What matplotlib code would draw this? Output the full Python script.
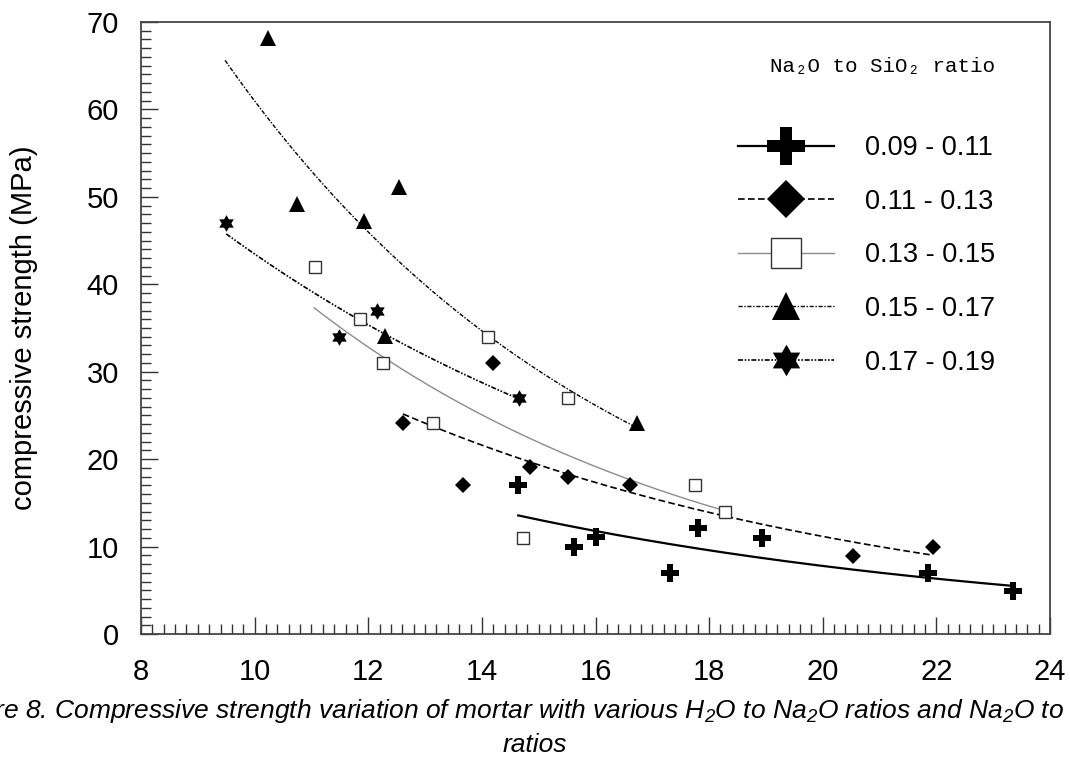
import numpy as np
from matplotlib import pyplot as plt
from matplotlib.lines import Line2D
from matplotlib.path import Path
from matplotlib.ticker import MultipleLocator

# H2O / Na2O ratio (x) and compressive strength in MPa (y) for each Na2O/SiO2 group
labels = ['0.09 - 0.11', '0.11 - 0.13', '0.13 - 0.15', '0.15 - 0.17', '0.17 - 0.19']

x_009 = [14.64, 15.62, 16.01, 17.31, 17.81, 18.93, 21.86, 23.35]
y_009 = [17.0, 10.0, 11.1, 7.0, 12.1, 11.0, 7.0, 4.9]

x_011 = [12.61, 13.67, 14.20, 14.85, 15.52, 16.61, 20.54, 21.94]
y_011 = [24.1, 17.0, 31.0, 19.1, 18.0, 17.0, 8.9, 9.95]

x_013 = [11.06, 11.86, 12.26, 13.14, 14.11, 14.73, 15.52, 17.75, 18.28]
y_013 = [42.0, 36.0, 31.0, 24.1, 34.0, 11.0, 27.0, 17.0, 14.0]

x_015 = [10.24, 10.75, 11.93, 12.30, 12.54, 16.73]
y_015 = [68.2, 49.2, 47.2, 34.1, 51.1, 24.1]

x_017 = [9.50, 11.49, 12.15, 14.65]
y_017 = [47.0, 34.0, 37.0, 27.0]

# x range covered by each exponential trend line
fit_ranges = [(14.64, 23.35), (12.61, 21.94), (11.05, 18.28), (9.48, 16.73), (9.50, 14.65)]

plt.rcParams['mathtext.fontset'] = 'custom'
plt.rcParams['mathtext.it'] = 'Liberation Sans:italic'
plt.rcParams['mathtext.rm'] = 'Liberation Sans:italic'

#======================== estrella de 6 puntas (marcador)
ang = np.deg2rad(90 + 30 * np.arange(12))
rad = np.where(np.arange(12) % 2 == 0, 1.0, 1 / np.sqrt(3))
star_verts = np.column_stack([rad * np.cos(ang), rad * np.sin(ang)])
star6 = Path(np.vstack([star_verts, star_verts[:1]]), closed=True)

series = [
    (x_009, y_009, dict(marker='P', ms=12.5, mfc='k', mec='k', mew=0),
     dict(color='k', lw=1.6, ls='-'), 2.2),
    (x_011, y_011, dict(marker='D', ms=8.6, mfc='k', mec='k', mew=0),
     dict(color='k', lw=1.2, ls=(0, (4, 2))), 2.2),
    (x_013, y_013, dict(marker='s', ms=8.4, mfc='white', mec='#333333', mew=1.0),
     dict(color='#8c8c8c', lw=1.0, ls='-'), 2.5),
    (x_015, y_015, dict(marker='^', ms=11.5, mfc='k', mec='k', mew=0),
     dict(color='k', lw=1.0, ls=(0, (3, 1.2, 1, 1.2))), 1.8),
    (x_017, y_017, dict(marker=star6, ms=12, mfc='k', mec='k', mew=0),
     dict(color='k', lw=1.2, ls=(0, (3, 1, 1, 1, 1, 1))), 1.9),
]

fig = plt.figure(figsize=(10.7, 7.62), dpi=100)
ax = fig.add_axes([141 / 1070, 1 - 634 / 762, (1050 - 141) / 1070, (634 - 22) / 762])

handles = []
for (xs, ys, mk, ln, esc), (x0, x1) in zip(series, fit_ranges):
    xs = np.array(xs)
    ys = np.array(ys)
    # linea de tendencia exponencial
    k, b = np.polyfit(xs, np.log(ys), 1)
    xf = np.linspace(x0, x1, 200)
    ax.plot(xf, np.exp(b + k * xf), zorder=2, **ln)
    ax.plot(xs, ys, ls='none', zorder=3, **mk)
    big = dict(mk)
    big['ms'] = mk['ms'] * esc
    handles.append(Line2D([], [], **ln, **big))

ax.set_xlim(8, 24)
ax.set_ylim(0, 70)
ax.xaxis.set_major_locator(MultipleLocator(2))
ax.xaxis.set_minor_locator(MultipleLocator(0.2))
ax.yaxis.set_major_locator(MultipleLocator(10))
ax.yaxis.set_minor_locator(MultipleLocator(1))
ax.tick_params(which='both', direction='in', top=False, right=False, color='#333333')
ax.tick_params(which='major', length=12, width=1.0)
ax.tick_params(which='minor', length=7, width=1.0)
ax.tick_params(axis='x', labelsize=21, pad=17)
ax.tick_params(axis='y', labelsize=21, pad=16)
for lab in ax.get_xticklabels() + ax.get_yticklabels():
    lab.set_family('Liberation Sans')
for s in ax.spines.values():
    s.set_color('#444444')
    s.set_linewidth(1.3)

ax.set_ylabel('compressive strength (MPa)', fontsize=21, family='Liberation Sans')
ax.yaxis.set_label_coords((38 - 141) / 909, 0.5)

#======================== leyenda
fig.text(882 / 1070, 1 - 66 / 762, 'Na\u2082O to SiO\u2082 ratio', ha='center', va='center',
         fontsize=15, family=['Liberation Mono', 'DejaVu Sans Mono'])
ax.legend(handles, labels, loc='upper left', bbox_to_anchor=(738 / 1070, 1 - 135 / 762),
          bbox_transform=fig.transFigure, frameon=False, borderpad=0, borderaxespad=0,
          handlelength=3.55, handletextpad=1.15, labelspacing=1.02,
          prop={'family': 'Liberation Sans', 'size': 19.5})

#======================== pie de figura
linea1 = ('Figure 8. Compressive strength variation of mortar with various H$_2$O to '
          'Na$_2$O ratios and Na$_2$O to SiO$_2$')
linea2 = 'ratios'
fig.text(535 / 1070, 1 - 711 / 762, linea1, ha='center', va='center', fontsize=19,
         style='italic', family='Liberation Sans')
fig.text(535 / 1070, 1 - 745 / 762, linea2, ha='center', va='center', fontsize=19,
         style='italic', family='Liberation Sans')

fig.savefig('out.png', dpi=100)
